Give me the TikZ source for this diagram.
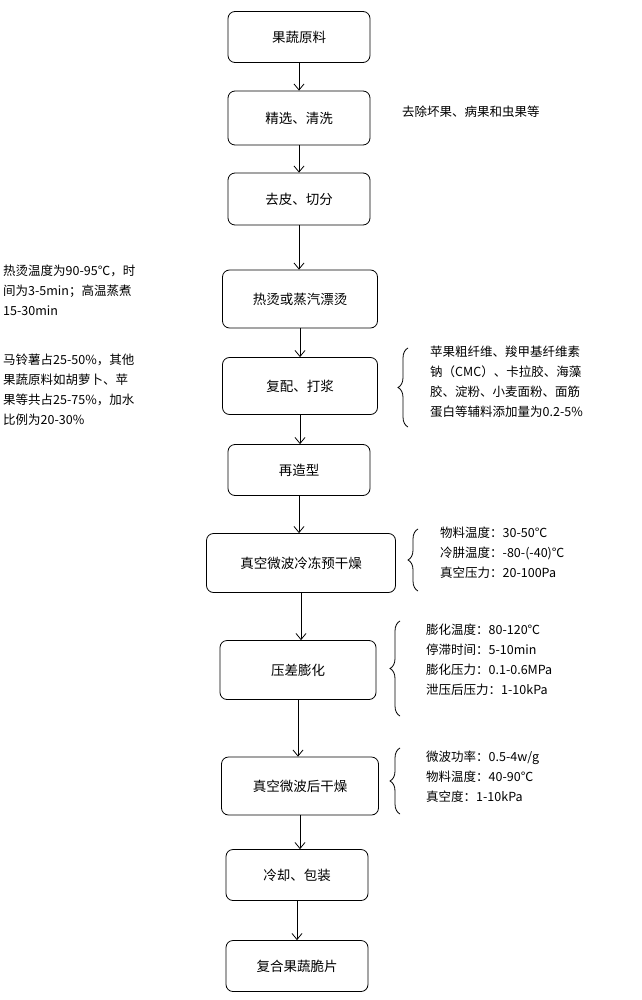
\documentclass[tikz,border=0pt]{standalone}
\usepackage{fontspec}
\setmainfont{Liberation Sans}
\newfontfamily\cjk{Noto Sans CJK SC}
\usetikzlibrary{decorations.pathreplacing,arrows.meta}
\begin{document}
\begin{tikzpicture}[x=1pt,y=-1pt,
  stepbox/.style={draw,thick,rounded corners=7pt,font=\cjk\fontsize{13.5}{15}\selectfont},
  ann/.style={font=\cjk\fontsize{12.5}{20}\selectfont,align=left,anchor=north west,inner sep=0pt},
  arr/.style={-{Straight Barb[length=6pt,width=10pt]},thick},
  br/.style={decorate,decoration={brace,amplitude=10pt},thick}]
\useasboundingbox (0,0) rectangle (641,1000);
\fill[white] (0,0) rectangle (641,1000);
\node[stepbox,minimum width=142pt,minimum height=51pt] (b1) at (299,37) {果蔬原料};
\node[stepbox,minimum width=142pt,minimum height=54pt] (b2) at (299,118) {精选、清洗};
\node[stepbox,minimum width=142pt,minimum height=52pt] (b3) at (299,199) {去皮、切分};
\node[stepbox,minimum width=155pt,minimum height=58pt] (b4) at (300,299) {热烫或蒸汽漂烫};
\node[stepbox,minimum width=155pt,minimum height=57pt] (b5) at (300,386) {复配、打浆};
\node[stepbox,minimum width=142pt,minimum height=51pt] (b6) at (299,470) {再造型};
\node[stepbox,minimum width=189pt,minimum height=59pt] (b7) at (301,563) {真空微波冷冻预干燥};
\node[stepbox,minimum width=156pt,minimum height=59pt] (b8) at (298,670) {压差膨化};
\node[stepbox,minimum width=157pt,minimum height=58pt] (b9) at (300,786) {真空微波后干燥};
\node[stepbox,minimum width=142pt,minimum height=51pt] (b10) at (297,875) {冷却、包装};
\node[stepbox,minimum width=142pt,minimum height=51pt] (b11) at (297,966) {复合果蔬脆片};
\foreach \a/\b in {b1/b2,b2/b3,b3/b4,b4/b5,b5/b6,b6/b7,b7/b8,b8/b9,b9/b10,b10/b11}
  \draw[arr] (\a.south) -- (\a.south |- \b.north);
\node[ann] (t2) at (402,106) {去除坏果、病果和虫果等};
\node[ann] (t4) at (3,265) {热烫温度为90-95℃，时\\间为3-5min；高温蒸煮\\15-30min};
\node[ann] (t5) at (3,354) {马铃薯占25-50\%，其他\\果蔬原料如胡萝卜、苹\\果等共占25-75\%，加水\\比例为20-30\%};
\node[ann] (t5r) at (430,346) {苹果粗纤维、羧甲基纤维素\\钠（CMC）、卡拉胶、海藻\\胶、淀粉、小麦面粉、面筋\\蛋白等辅料添加量为0.2-5\%};
\node[ann] (t7) at (440,527) {物料温度：30-50℃\\冷肼温度：-80-(-40)℃\\真空压力：20-100Pa};
\node[ann] (t8) at (426,624) {膨化温度：80-120℃\\停滞时间：5-10min\\膨化压力：0.1-0.6MPa\\泄压后压力：1-10kPa};
\node[ann] (t9) at (426,751) {微波功率：0.5-4w/g\\物料温度：40-90℃\\真空度：1-10kPa};
\coordinate (c5a) at (408,348); \coordinate (c5b) at (408,427);
\coordinate (c7a) at (418,529); \coordinate (c7b) at (418,591);
\coordinate (c8a) at (400,621); \coordinate (c8b) at (400,716);
\coordinate (c9a) at (400,748); \coordinate (c9b) at (400,814);
\draw[br] (c5b) -- (c5a);
\draw[br] (c7b) -- (c7a);
\draw[br] (c8b) -- (c8a);
\draw[br] (c9b) -- (c9a);
\end{tikzpicture}
\end{document}
